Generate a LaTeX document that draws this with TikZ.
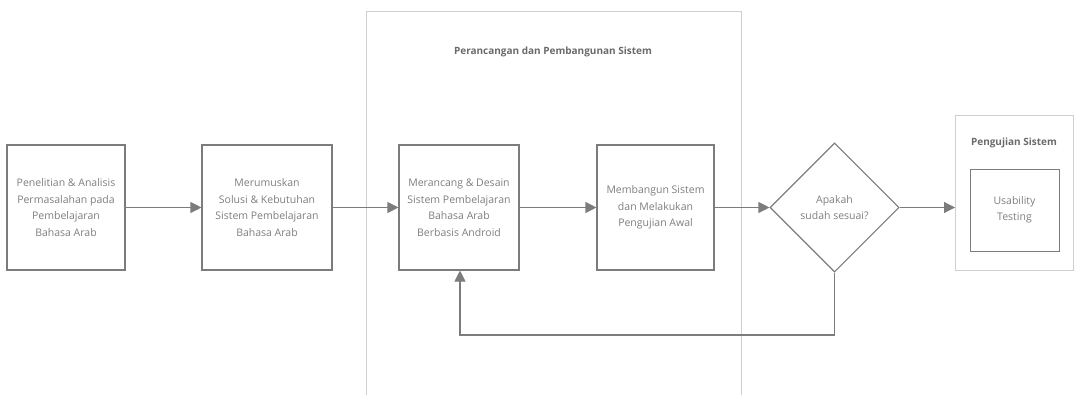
\documentclass[tikz,border=0pt]{standalone}
\usepackage{fontspec}
\setmainfont{Open Sans}
\usetikzlibrary{arrows.meta,shapes.geometric}
\definecolor{boxline}{HTML}{7C7C7C}
\definecolor{frameline}{HTML}{CFCFCF}
\definecolor{txt}{HTML}{7E7E7E}
\definecolor{ttl}{HTML}{6A6A6A}
\begin{document}
\begin{tikzpicture}[x=1pt,y=-1pt,
  stepbox/.style={draw=boxline,line width=1.1pt,minimum width=#1,minimum height=125pt,
    inner sep=0pt,align=center,text=txt,font=\fontsize{10.5}{16.5}\selectfont},
  stepbox/.default=120pt,
  frame/.style={draw=frameline,line width=0.9pt},
  flow/.style={draw=boxline,line width=1.1pt,-{Triangle[length=11pt,width=11pt]}},
  title/.style={text=ttl,font=\bfseries\fontsize{10}{12}\selectfont}]
\useasboundingbox (0,0) rectangle (1075,395);
% container of the design phase, open at the bottom
\draw[frame] (366,400) -- (366,11) -- (741,11) -- (741,400);
\node[title] (t1) at (553,52) {Perancangan dan Pembangunan Sistem};
% container of the testing phase
\draw[frame] (955,115) rectangle (1073,270);
\node[title] (t2) at (1014,143) {Pengujian Sistem};
% process steps
\node[stepbox=118pt] (s1) at (66,207.5) {Penelitian \& Analisis\\Permasalahan pada\\Pembelajaran\\Bahasa Arab};
\node[stepbox=130pt] (s2) at (267,207.5) {Merumuskan\\Solusi \& Kebutuhan\\Sistem Pembelajaran\\Bahasa Arab};
\node[stepbox=120pt] (s3) at (459,207.5) {Merancang \& Desain\\Sistem Pembelajaran\\Bahasa Arab\\Berbasis Android};
\node[stepbox=117pt] (s4) at (655.5,207.5) {Membangun Sistem\\dan Melakukan\\Pengujian Awal};
\node[diamond,draw=boxline,line width=1.1pt,minimum width=129pt,minimum height=129pt,
  inner sep=0pt,align=center,text=txt,font=\fontsize{10.5}{16.5}\selectfont] (d) at (834.5,207.5) {Apakah\\sudah sesuai?};
\node[draw=boxline,line width=0.9pt,minimum width=89pt,minimum height=82pt,inner sep=0pt,
  align=center,text=txt,font=\fontsize{10.5}{16.5}\selectfont] (u) at (1014.5,210) {Usability\\Testing};
\coordinate (pg) at (955,207.5);
% connectors
\draw[flow] (s1) -- (s2);
\draw[flow] (s2) -- (s3);
\draw[flow] (s3) -- (s4);
\draw[flow] (s4) -- (d);
\draw[flow] (d) -- (pg);
\coordinate (c1) at (834.5,335);
\coordinate (c2) at (460,335);
\draw[flow] (d.south) -- (c1) -- (c2) -- (c2 |- s3.south);
\end{tikzpicture}
\end{document}
